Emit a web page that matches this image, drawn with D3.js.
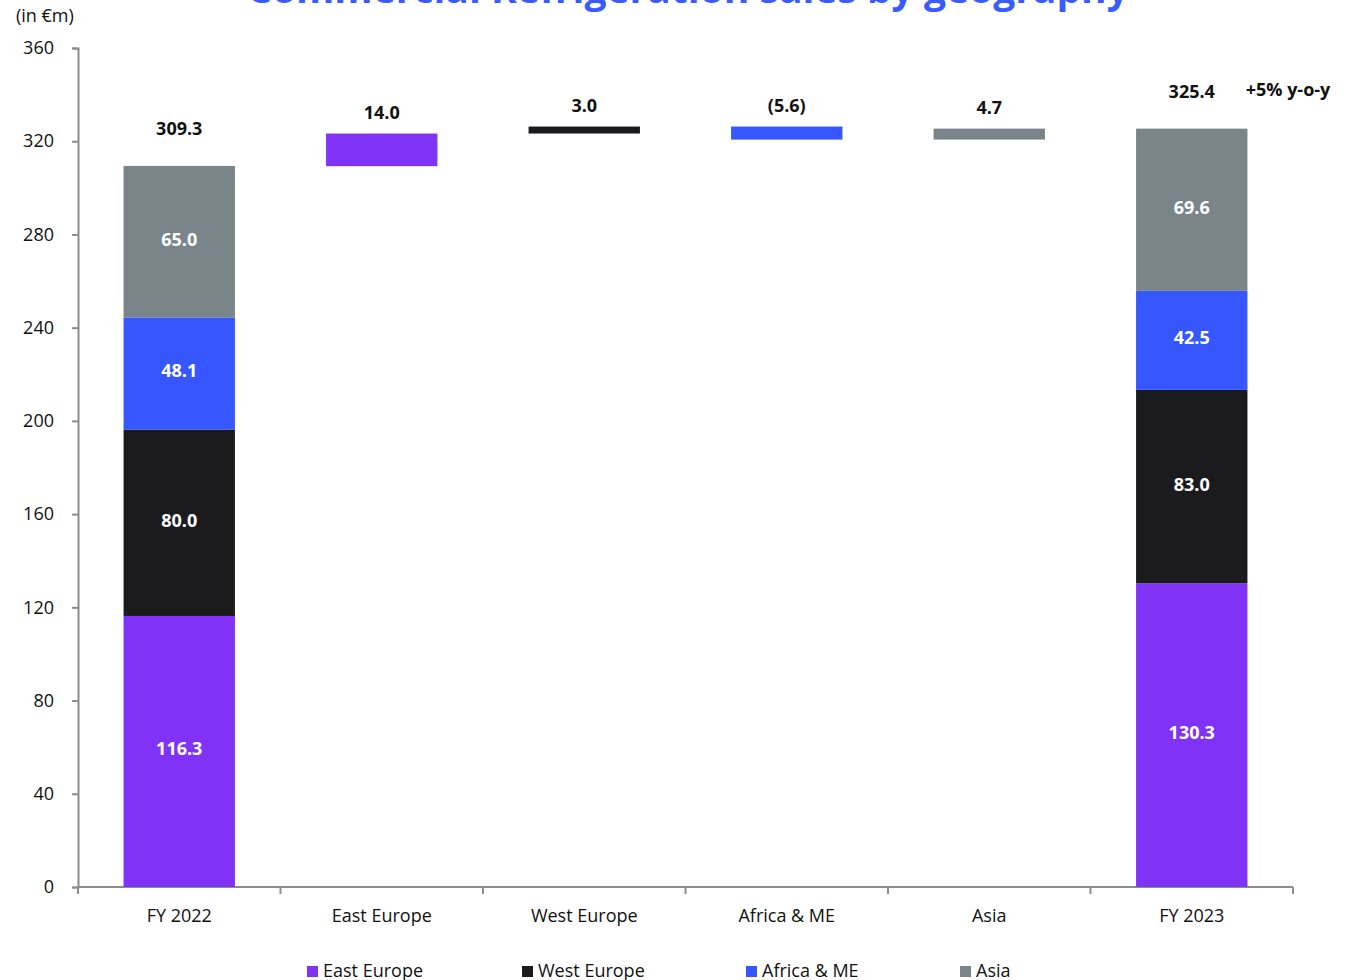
<!DOCTYPE html>
<html>
<head>
<meta charset="utf-8">
<script src="https://cdn.jsdelivr.net/npm/d3@7"></script>
<style>
  body { margin: 0; background: #fff; }
  svg { display: block; font-family: "Open Sans", sans-serif; }
</style>
</head>
<body>
<div id="chart"></div>
<script>
// categories along the x axis
var categories = ["FY 2022", "East Europe", "West Europe", "Africa & ME", "Asia", "FY 2023"];
var regions = ["East Europe", "West Europe", "Africa & ME", "Asia"];
var colors = ["#8033F7", "#1B1B1E", "#3657FF", "#7A858A"];

// stacked totals
var fy2022 = [116.3, 80.0, 48.1, 65.0];
var fy2023 = [130.3, 83.0, 42.5, 69.6];
var fy2022Total = 309.3, fy2023Total = 325.4;

// bridge changes
var changes = [14.0, 3.0, -5.6, 4.7];
var changeLabels = ["14.0", "3.0", "(5.6)", "4.7"];

var yTicks = [0, 40, 80, 120, 160, 200, 240, 280, 320, 360];

var W = 1354, H = 980;
var margin = {top: 48, right: 61, bottom: 93, left: 78},
	width = W - margin.left - margin.right,
	height = H - margin.top - margin.bottom;

var svg = d3.select("#chart").append("svg")
	.attr("width", W).attr("height", H);

// title, clipped at top as in the original
svg.append("text")
	.attr("x", 688).attr("y", 3)
	.attr("text-anchor", "middle")
	.attr("fill", "#3A5CFF")
	.attr("font-size", 39).attr("font-weight", "bold")
	.text("Commercial Refrigeration sales by geography");

svg.append("text")
	.attr("x", 16).attr("y", 22)
	.attr("font-size", 18).attr("fill", "#111")
	.text("(in €m)");

var g = svg.append("g")
	.attr("transform", "translate(" + margin.left + "," + margin.top + ")");

var x = d3.scaleBand().domain(categories).range([0, width]).paddingInner(0.45).paddingOuter(0.225);
var y = d3.scaleLinear().domain([0, 360]).range([height, 0]);

// y axis
var yAxis = g.append("g")
	.call(d3.axisLeft(y).tickValues(yTicks).tickSize(6).tickPadding(18));
yAxis.select(".domain").attr("stroke", "#8c8c8c").attr("stroke-width", 2);
yAxis.selectAll(".tick line").attr("stroke", "#8c8c8c").attr("stroke-width", 2);
yAxis.selectAll(".tick text").attr("font-size", 18).attr("fill", "#111")
	.attr("font-family", "Open Sans");

// x axis
var xg = g.append("g").attr("transform", "translate(0," + height + ")");
xg.append("line").attr("x1", 0).attr("x2", width).attr("stroke", "#8c8c8c").attr("stroke-width", 2);
d3.range(categories.length + 1).forEach(function(i) {
	var xx = i * width / categories.length;
	xg.append("line").attr("x1", xx).attr("x2", xx).attr("y1", 0).attr("y2", 7)
		.attr("stroke", "#8c8c8c").attr("stroke-width", 2);
});
xg.selectAll("text.cat").data(categories).enter().append("text")
	.attr("class", "cat")
	.attr("x", d => x(d) + x.bandwidth() / 2)
	.attr("y", 35)
	.attr("text-anchor", "middle")
	.attr("font-size", 18).attr("fill", "#111")
	.text(d => d);

// stacked bars
function stackBar(cat, vals, total) {
	var base = 0;
	vals.forEach(function(v, i) {
		g.append("rect")
			.attr("x", x(cat)).attr("width", x.bandwidth())
			.attr("y", y(base + v)).attr("height", y(base) - y(base + v))
			.attr("fill", colors[i]);
		g.append("text")
			.attr("x", x(cat) + x.bandwidth() / 2)
			.attr("y", y(base + v / 2) + 4)
			.attr("text-anchor", "middle")
			.attr("font-size", 18).attr("font-weight", "bold").attr("fill", "#fff")
			.text(v.toFixed(1));
		base += v;
	});
	g.append("text")
		.attr("x", x(cat) + x.bandwidth() / 2)
		.attr("y", y(base) - 31)
		.attr("text-anchor", "middle")
		.attr("font-size", 18).attr("font-weight", "bold").attr("fill", "#111")
		.text(total.toFixed(1));
}
stackBar("FY 2022", fy2022, fy2022Total);
stackBar("FY 2023", fy2023, fy2023Total);

// bridge bars
var running = fy2022Total;
changes.forEach(function(c, i) {
	var cat = categories[i + 1];
	var lo = Math.min(running, running + c), hi = Math.max(running, running + c);
	g.append("rect")
		.attr("x", x(cat)).attr("width", x.bandwidth())
		.attr("y", y(hi)).attr("height", y(lo) - y(hi))
		.attr("fill", colors[i]);
	g.append("text")
		.attr("x", x(cat) + x.bandwidth() / 2)
		.attr("y", y(hi) - 15)
		.attr("text-anchor", "middle")
		.attr("font-size", 18).attr("font-weight", "bold").attr("fill", "#111")
		.text(changeLabels[i]);
	running += c;
});

// growth note
svg.append("text")
	.attr("x", 1288).attr("y", 96)
	.attr("text-anchor", "middle")
	.attr("font-size", 18).attr("font-weight", "bold").attr("fill", "#111")
	.text("+5% y-o-y");

// legend
var legX = [307, 522, 746, 960];
var leg = svg.selectAll("g.leg").data(regions).enter().append("g")
	.attr("class", "leg")
	.attr("transform", (d, i) => "translate(" + legX[i] + ",966)");
leg.append("rect").attr("width", 11).attr("height", 11).attr("fill", (d, i) => colors[i]);
leg.append("text").attr("x", 16).attr("y", 11)
	.attr("font-size", 18).attr("fill", "#111").text(d => d);
</script>
</body>
</html>
